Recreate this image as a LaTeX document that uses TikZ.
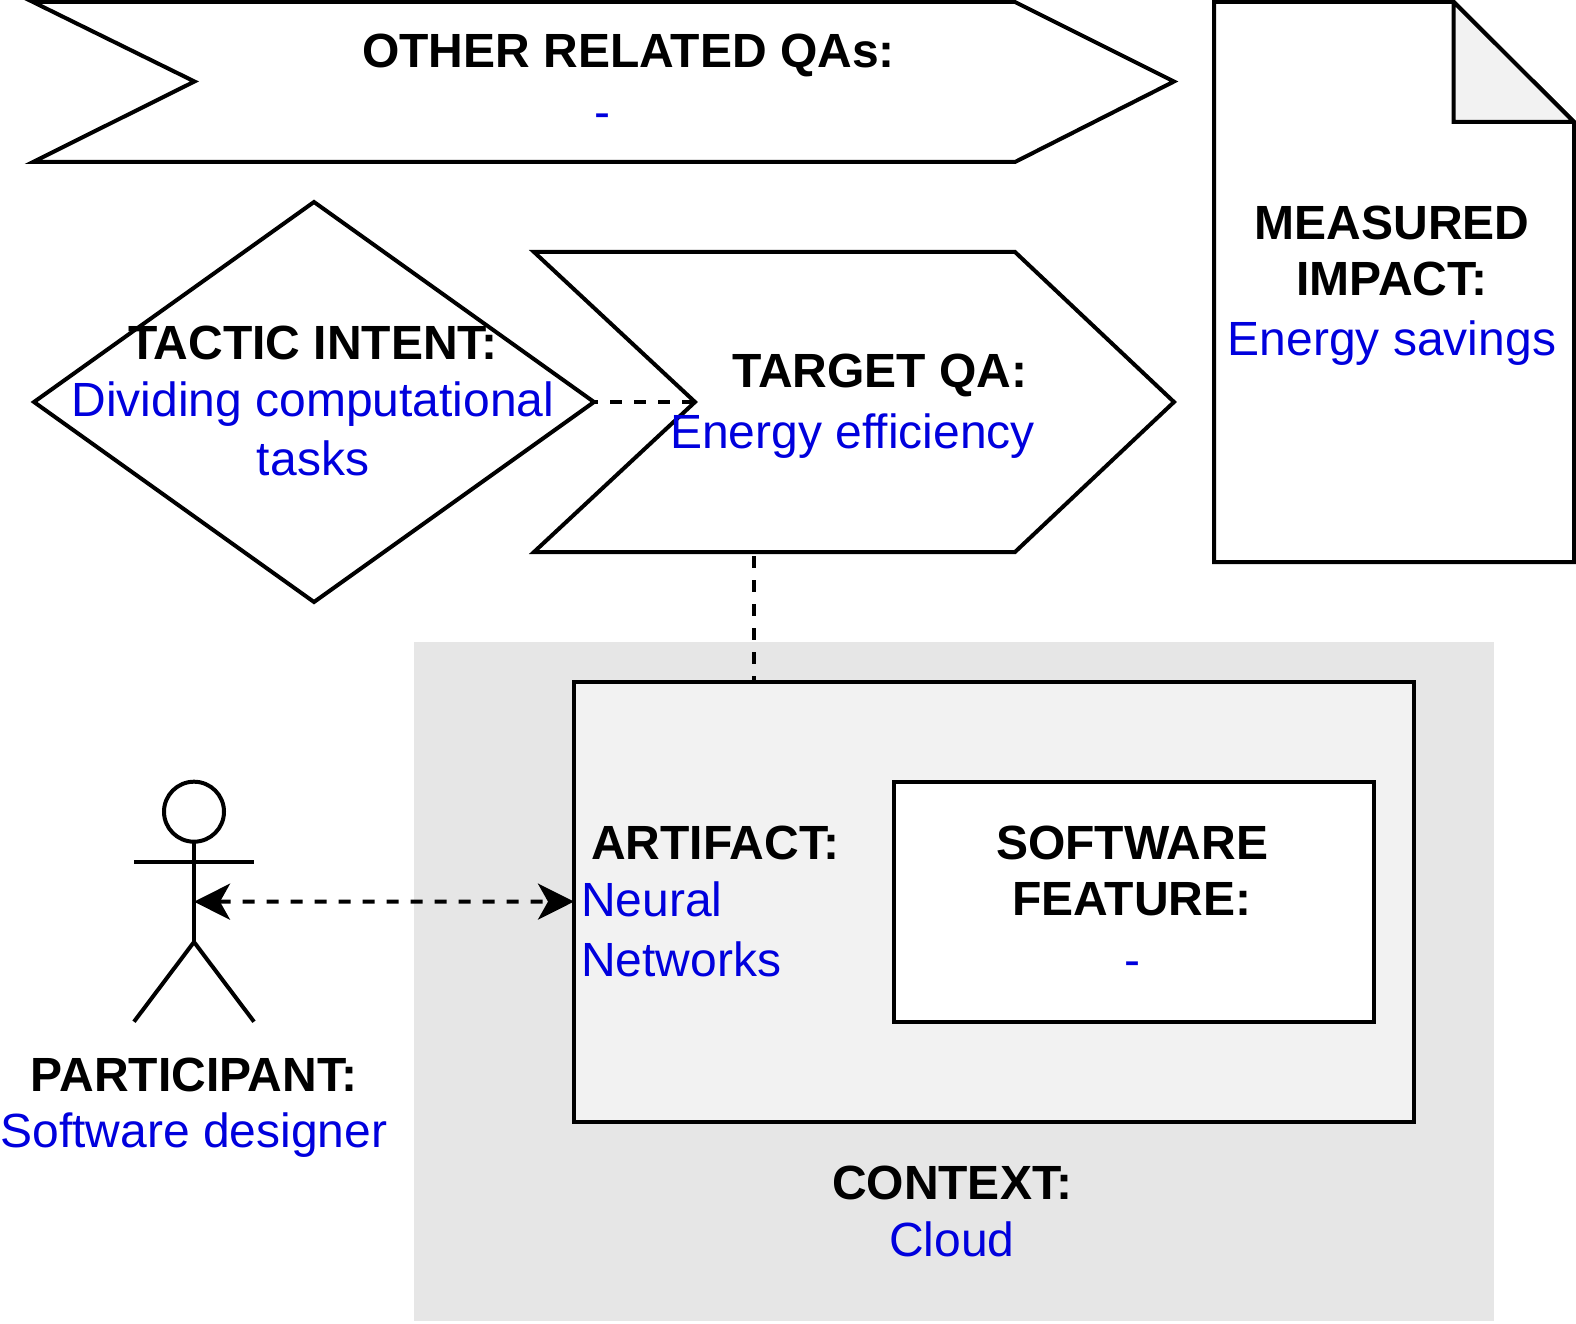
\documentclass[tikz,border=0pt]{standalone}
\usepackage{fontspec}
\setmainfont{Liberation Sans}
\usetikzlibrary{shapes}
\usetikzlibrary{arrows.meta}
\definecolor{valblue}{RGB}{0,0,221}
\definecolor{ctxgray}{RGB}{230,230,230}
\definecolor{boxgray}{RGB}{242,242,242}
\tikzset{
	outline/.style={draw=black,line width=4pt},
	link/.style={line width=4pt,dash pattern=on 12pt off 12pt},
	txt/.style={align=center,inner sep=0pt,font=\fontsize{48}{57.5}\selectfont},
	val/.style={txt,text=valblue,font=\fontsize{48}{60}\selectfont},
	hd/.style={txt,font=\fontsize{48}{56.5}\selectfont\bfseries},
	boxnode/.style={outline,rectangle,inner sep=0pt,outer sep=0pt}
}
\newcommand{\valtext}[1]{\textcolor{valblue}{\mdseries #1}}
\begin{document}
\begin{tikzpicture}[x=1pt,y=-1pt]
	\useasboundingbox (0,0) rectangle (1576,1324);
	% context and artifact
	\node[fill=ctxgray,rectangle,inner sep=0pt,outer sep=0pt,minimum width=1080pt,minimum height=679pt] (context) at (954,981.5) {};
	\node[boxnode,fill=boxgray,minimum width=840pt,minimum height=440pt] (artifact) at (994,901.6) {};
	\node[boxnode,fill=white,minimum width=480pt,minimum height=240pt] (feature) at (1134,902) {};
	% other QAs
	\draw[outline] (33,2) -- (1015,2) -- (1174,81.5) -- (1015,162) -- (33,162) -- (194.5,81.5) -- cycle;
	% target QA
	\coordinate (targetnotch) at (695,402);
	\coordinate (targetfoot) at (754,552);
	\draw[outline] (534,252) -- (1015,252) -- (1174,402) -- (1015,552) -- (534,552) -- (targetnotch) -- cycle;
	% tactic
	\node[outline,diamond,aspect=1.4,inner sep=0pt,outer sep=0pt,minimum width=560pt,minimum height=400pt] (tactic) at (314,402) {};
	% measured impact
	\draw[outline,fill=white] (1214,2) -- (1453.7,2) -- (1574,122) -- (1574,562) -- (1214,562) -- cycle;
	\draw[outline,fill=boxgray] (1453.7,2) -- (1574,122) -- (1453.7,122) -- cycle;
	% participant
	\node[outline,circle,inner sep=0pt,outer sep=0pt,minimum size=60pt] (head) at (194,811.7) {};
	\coordinate (hip) at (194,942);
	\coordinate (mid) at (194,901.7);
	\draw[outline] (head) -- (hip);
	\draw[outline] (134,861.7) -- (254,861.7);
	\draw[outline] (134,1021.7) -- (hip) -- (254,1021.7);
	% connectors
	\draw[link,dash phase=8pt] (tactic.east) -- (targetnotch);
	\draw[link,dash phase=20pt] (targetfoot) -- (targetfoot |- artifact.north);
	\draw[link,{Stealth[length=36pt,width=36pt,inset=10pt]}-{Stealth[length=36pt,width=36pt,inset=10pt]}] (mid) -- (artifact.west);
	% labels
	\node[hd] (otherlbl) at (628.5,55) {OTHER RELATED QAs:};
	\node[val] (otherval) at (602,121) {-};
	\node[hd] (tacticlbl) at (313,400.5) {TACTIC INTENT:\\[1pt]\valtext{Dividing computational}\\[2pt]\valtext{tasks}};
	\node[hd] (targetlbl) at (880,375) {TARGET QA:};
	\node[val] (targetval) at (852.5,436) {Energy efficiency};
	\node[hd] (impactlbl) at (1392,285.5) {MEASURED\\IMPACT:\\[3pt]\valtext{Energy savings}};
	\node[hd] (artifactlbl) at (715,843) {ARTIFACT:};
	\node[val,align=left,anchor=north west] (artifactval) at (581,882) {Neural\\Networks};
	\node[hd] (featurelbl) at (1132,901) {SOFTWARE\\FEATURE:\\[4pt]\valtext{-}};
	\node[hd] (participantlbl) at (194,1107.5) {PARTICIPANT:\\[-1pt]\valtext{Software designer}};
	\node[hd] (contextlbl) at (952,1211.5) {CONTEXT:\\\valtext{Cloud}};
\end{tikzpicture}
\end{document}
